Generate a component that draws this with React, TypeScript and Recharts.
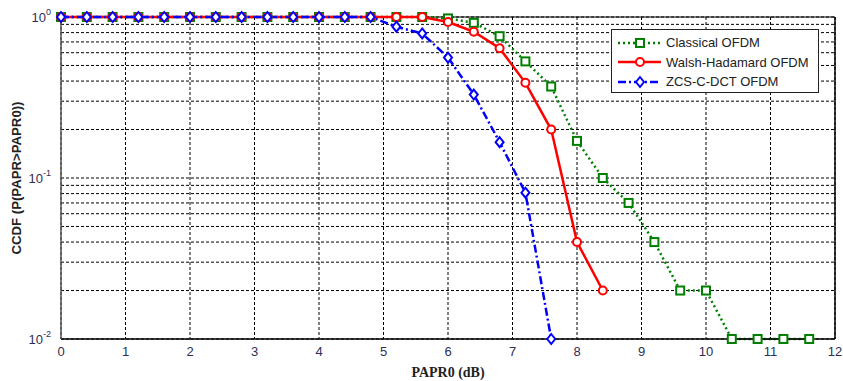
import React from 'react';
import {
  LineChart,
  Line,
  XAxis,
  YAxis,
  CartesianGrid,
  ReferenceLine,
  Legend,
} from 'recharts';

const papr0 = [
  0, 0.4, 0.8, 1.2, 1.6, 2, 2.4, 2.8, 3.2, 3.6, 4, 4.4, 4.8, 5.2, 5.6,
  6, 6.4, 6.8, 7.2, 7.6, 8, 8.4, 8.8, 9.2, 9.6, 10, 10.4, 10.8, 11.2, 11.6,
];

const classical = [
  1, 1, 1, 1, 1, 1, 1, 1, 1, 1, 1, 1, 1, 1, 1,
  0.98, 0.92, 0.76, 0.53, 0.37, 0.17, 0.1, 0.07, 0.04, 0.02, 0.02, 0.01, 0.01, 0.01, 0.01,
];

const walsh = [
  1, 1, 1, 1, 1, 1, 1, 1, 1, 1, 1, 1, 1, 1, 1,
  0.93, 0.81, 0.64, 0.39, 0.2, 0.04, 0.02, null, null, null, null, null, null, null, null,
];

const zcs = [
  1, 1, 1, 1, 1, 1, 1, 1, 1, 1, 1, 1, 1, 0.87, 0.79,
  0.56, 0.33, 0.167, 0.081, 0.01, null, null, null, null, null, null, null, null, null, null,
];

const xTicks = [0, 1, 2, 3, 4, 5, 6, 7, 8, 9, 10, 11, 12];
const yTicks = [
  0.01, 0.02, 0.03, 0.04, 0.05, 0.06, 0.07, 0.08, 0.09,
  0.1, 0.2, 0.3, 0.4, 0.5, 0.6, 0.7, 0.8, 0.9, 1,
];
const decadeLabels: Record<string, string> = { '1': '0', '0.1': '-1', '0.01': '-2' };

const data = papr0.map((x, i) => ({ x, classical: classical[i], walsh: walsh[i], zcs: zcs[i] }));

const GREEN = '#008000';
const RED = '#ff0000';
const BLUE = '#0000ff';
const TICK_COLOR = '#2e2e55';
const SANS = "Arial, 'Liberation Sans'";

const Square = ({ cx, cy }: any) =>
  cx == null || cy == null ? null : (
    <rect x={cx - 4} y={cy - 4} width={8} height={8} fill="#fff" stroke={GREEN} strokeWidth={2} />
  );

const Circle = ({ cx, cy }: any) =>
  cx == null || cy == null ? null : (
    <circle cx={cx} cy={cy} r={4} fill="#fff" stroke={RED} strokeWidth={2} />
  );

const Diamond = ({ cx, cy }: any) =>
  cx == null || cy == null ? null : (
    <path
      d={`M${cx},${cy - 5}L${cx + 4},${cy}L${cx},${cy + 5}L${cx - 4},${cy}Z`}
      fill="#fff"
      stroke={BLUE}
      strokeWidth={2}
    />
  );

const YTick = ({ x, y, payload }: any) => {
  const exp = decadeLabels[String(payload.value)];
  if (exp === undefined) return null;
  return (
    <text x={x - 2} y={y} textAnchor="end" fontFamily={SANS} fontSize={13} fill={TICK_COLOR}>
      <tspan dy={5}>10</tspan>
      <tspan dy={-7} fontSize={9}>{exp}</tspan>
    </text>
  );
};

// narrow bold label, like the original figure
const YLabel = ({ viewBox }: any) => {
  const cy = viewBox.y + viewBox.height / 2;
  return (
    <text
      x={21}
      y={cy}
      transform={`rotate(-90, 21, ${cy})`}
      textAnchor="middle"
      fontFamily={SANS}
      fontWeight="bold"
      fontSize={12}
      fill="#222"
      textLength={153}
      lengthAdjust="spacingAndGlyphs"
    >
      CCDF (P(PAPR&gt;PAPR0))
    </text>
  );
};

const legendItems = [
  { name: 'Classical OFDM', color: GREEN, dash: '2 3', marker: 'square' },
  { name: 'Walsh-Hadamard OFDM', color: RED, dash: undefined, marker: 'circle' },
  { name: 'ZCS-C-DCT OFDM', color: BLUE, dash: '8 3 2 3', marker: 'diamond' },
];

const LegendBox = () => (
  <div
    style={{
      width: 208,
      height: 64,
      boxSizing: 'border-box',
      border: '1px solid #222',
      background: '#fff',
      paddingTop: 3,
      fontFamily: SANS,
      fontSize: 13,
      color: '#222',
    }}
  >
    {legendItems.map((it) => (
      <div key={it.name} style={{ display: 'flex', alignItems: 'center', height: 19.5 }}>
        <svg width={54} height={16} style={{ flex: 'none' }}>
          <line x1={6} y1={8} x2={49} y2={8} stroke={it.color} strokeWidth={2.5} strokeDasharray={it.dash} />
          {it.marker === 'square' && <Square cx={28} cy={8} />}
          {it.marker === 'circle' && <Circle cx={28} cy={8} />}
          {it.marker === 'diamond' && <Diamond cx={28} cy={8} />}
        </svg>
        <span style={{ whiteSpace: 'nowrap' }}>{it.name}</span>
      </div>
    ))}
  </div>
);

export default function App() {
  return (
    <div style={{ position: 'fixed', left: 0, top: 0, width: 843, height: 381, background: '#fff' }}>
      <LineChart width={843} height={381} data={data} margin={{ top: 17, right: 8, bottom: 0, left: 0 }}>
        <CartesianGrid stroke="#000" strokeDasharray="3 2" strokeWidth={1} verticalValues={xTicks} horizontalValues={yTicks} />
        <XAxis
          dataKey="x"
          type="number"
          domain={[0, 12]}
          ticks={xTicks}
          height={42}
          tickLine={false}
          axisLine={{ stroke: '#000', strokeWidth: 1.5 }}
          tick={{ fill: TICK_COLOR, fontSize: 13, fontFamily: SANS }}
          tickMargin={2}
          label={{
            value: 'PAPR0 (dB)',
            position: 'insideBottom',
            offset: 4,
            style: { fontFamily: "'Liberation Serif', 'Times New Roman', serif", fontWeight: 'bold', fontSize: 14, fill: '#222' },
          }}
        />
        <YAxis
          type="number"
          scale="log"
          domain={[0.01, 1]}
          ticks={yTicks}
          interval={0}
          width={61}
          tickLine={false}
          axisLine={{ stroke: '#555', strokeWidth: 1.5 }}
          tick={<YTick />}
          label={<YLabel />}
        />
        <ReferenceLine x={12} stroke="#000" strokeWidth={1.5} />
        <ReferenceLine y={1} stroke="#000" strokeWidth={1} />
        <Legend
          layout="vertical"
          align="center"
          verticalAlign="middle"
          content={<LegendBox />}
          wrapperStyle={{ left: 611, top: 29, width: 208, height: 64 }}
        />
        <Line
          dataKey="classical"
          stroke={GREEN}
          strokeWidth={2.5}
          strokeDasharray="2 3"
          dot={<Square />}
          isAnimationActive={false}
          connectNulls={false}
        />
        <Line
          dataKey="walsh"
          stroke={RED}
          strokeWidth={2.5}
          dot={<Circle />}
          isAnimationActive={false}
          connectNulls={false}
        />
        <Line
          dataKey="zcs"
          stroke={BLUE}
          strokeWidth={2.5}
          strokeDasharray="8 3 2 3"
          dot={<Diamond />}
          isAnimationActive={false}
          connectNulls={false}
        />
      </LineChart>
    </div>
  );
}
